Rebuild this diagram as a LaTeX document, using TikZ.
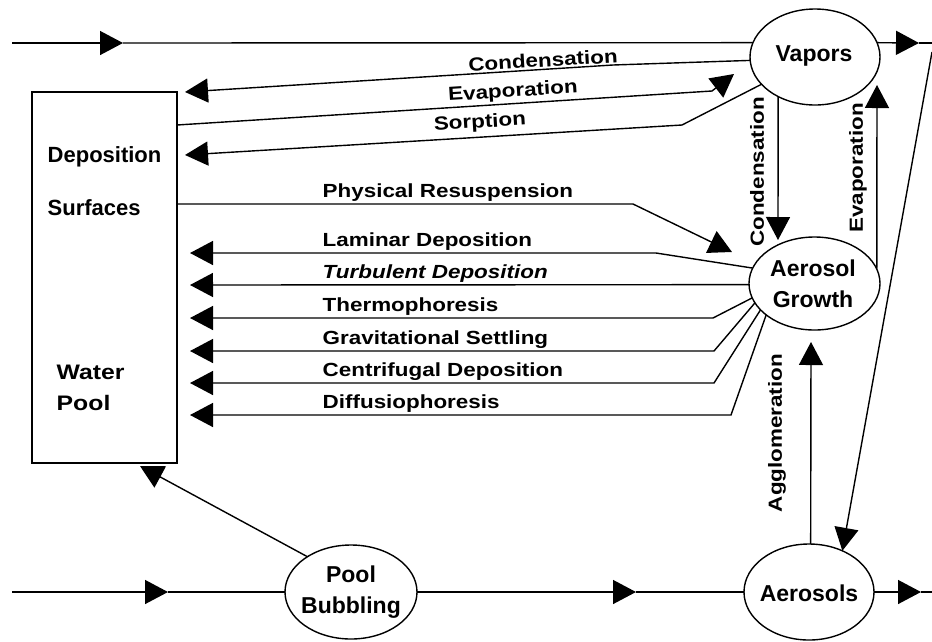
\documentclass[tikz,border=0pt]{standalone}
\usepackage{fontspec}
\setmainfont{Liberation Sans}
\newfontfamily\labfont{Liberation Sans}[FakeStretch=1.18]
\usetikzlibrary{shapes.geometric,arrows.meta}
\begin{document}
\begin{tikzpicture}[x=1pt,y=-1pt,line width=1.4pt,
  >={Triangle[length=23pt,width=24pt]},
  proc/.style={draw, ellipse, inner sep=0pt, outer sep=0pt},
  ptxt/.style={font=\fontsize{23}{31}\selectfont\bfseries, align=center, inner sep=0pt},
  boxt/.style={font=\fontsize{22}{24}\selectfont\bfseries, inner sep=0pt},
  boxw/.style={font=\labfont\fontsize{21}{24}\selectfont\bfseries, inner sep=0pt},
  lab/.style={font=\labfont\fontsize{19}{21}\selectfont\bfseries, inner sep=0pt},
  labi/.style={font=\labfont\fontsize{19}{21}\selectfont\bfseries\itshape, inner sep=0pt}]
\useasboundingbox (0,0) rectangle (932,641);

% nodes
\node[proc, minimum width=130pt, minimum height=96pt] (vap) at (815,57) {};
\node[ptxt] (vapt) at (814,56) {Vapors};
\node[proc, minimum width=131pt, minimum height=93pt] (ag) at (814.5,283.5) {};
\node[ptxt] (agt) at (813,284) {Aerosol\\Growth};
\node[proc, minimum width=130pt, minimum height=96pt] (aer) at (809,592) {};
\node[ptxt] (aert) at (809,593) {Aerosols};
\node[proc, minimum width=132pt, minimum height=94pt] (pb) at (351,592) {};
\node[ptxt] (pbt) at (351,592) {Pool\\Bubbling};
\node[draw, minimum width=145pt, minimum height=371pt, inner sep=0pt, outer sep=0pt] (box) at (104.5,277.5) {};
\node[boxt, anchor=west] (bt1) at (47,157) {Deposition};
\node[boxt, anchor=west] (bt2) at (47,208) {Surfaces};
\node[boxw, anchor=west] (bt3) at (56,372) {Water};
\node[boxw, anchor=west] (bt4) at (56,403) {Pool};

% top through-line
\coordinate (inT) at (12,43);
\coordinate (inTa) at (123,43);
\draw[->] (inT) -- (inTa);
\draw (inTa) -- (vap.167);
\coordinate (outTa) at (919,43);
\coordinate (outT) at (932,43);
\draw[->] (vap.13) -- (outTa);
\draw (outTa) -- (outT);

% vapors <-> deposition surfaces
\coordinate (cK) at (613,65);
\coordinate (cT) at (185,92);
\draw[->] (vap.183) -- (cK) -- (cT);
\path (box.north east) ++(0,33) coordinate (evS);
\coordinate (evK) at (712,91);
\coordinate (evT) at (734,74);
\draw[->] (evS) -- (evK) -- (evT);
\coordinate (soK) at (682,125);
\coordinate (soT) at (185,155);
\draw[->] (vap.207) -- (soK) -- (soT);
\path (box.north east) ++(0,112) coordinate (prS);
\coordinate (prK) at (633,204);
\coordinate (prT) at (732,252);
\draw[->] (prS) -- (prK) -- (prT);

% vapors <-> aerosol growth
\coordinate (vcT) at (778,240);
\draw[->] (vap.227) -- (vcT);
\coordinate (veT) at (877,85);
\draw[->] (ag.13) -- (veT);

% aerosol growth -> surfaces
\coordinate (laK) at (656,253);
\coordinate (laT) at (190,253);
\draw[->] (ag.166) -- (laK) -- (laT);
\coordinate (tuT) at (190,285);
\draw[->] (ag.181) -- (tuT);
\coordinate (thK) at (713,318);
\coordinate (thT) at (190,318);
\draw[->] (ag.193) -- (thK) -- (thT);
\coordinate (grK) at (714,351);
\coordinate (grT) at (190,351);
\draw[->] (ag.198) -- (grK) -- (grT);
\coordinate (ceK) at (714,383);
\coordinate (ceT) at (190,383);
\draw[->] (ag.206) -- (ceK) -- (ceT);
\coordinate (diK) at (731,415);
\coordinate (diT) at (190,415);
\draw[->] (ag.213) -- (diK) -- (diT);

% aerosols
\coordinate (agT) at (811,342);
\draw[->] (aer.88) -- (agT);
\coordinate (dS) at (932,52);
\draw[->] (dS) -- (aer.51);
\coordinate (wpT) at (140,466);
\draw[->] (pb.141) -- (wpT);

% bottom through-line
\coordinate (inB) at (12,592);
\coordinate (inBa) at (168,592);
\draw[->] (inB) -- (inBa);
\draw (inBa) -- (pb.west);
\coordinate (mBa) at (636,592);
\draw[->] (pb.east) -- (mBa);
\draw (mBa) -- (aer.west);
\coordinate (oBa) at (921,592);
\coordinate (oB) at (932,592);
\draw[->] (aer.east) -- (oBa);
\draw (oBa) -- (oB);

% labels
\node[lab, rotate=3.3] (l1) at (543,60) {Condensation};
\node[lab, rotate=3.6] (l2) at (513,92) {Evaporation};
\node[lab, rotate=3.5] (l3) at (480,123) {Sorption};
\node[lab, anchor=base west] (l4) at (322,197) {Physical Resuspension};
\node[lab, anchor=base west] (l5) at (322,246) {Laminar Deposition};
\node[labi, anchor=base west] (l6) at (322,278) {Turbulent Deposition};
\node[lab, anchor=base west] (l7) at (322,311) {Thermophoresis};
\node[lab, anchor=base west] (l8) at (322,344) {Gravitational Settling};
\node[lab, anchor=base west] (l9) at (322,376) {Centrifugal Deposition};
\node[lab, anchor=base west] (l10) at (322,408) {Diffusiophoresis};
\node[lab, rotate=90] (l11) at (757,172) {Condensation};
\node[lab, rotate=90] (l12) at (858,168) {Evaporation};
\node[lab, rotate=90] (l13) at (777,433) {Agglomeration};
\end{tikzpicture}
\end{document}
